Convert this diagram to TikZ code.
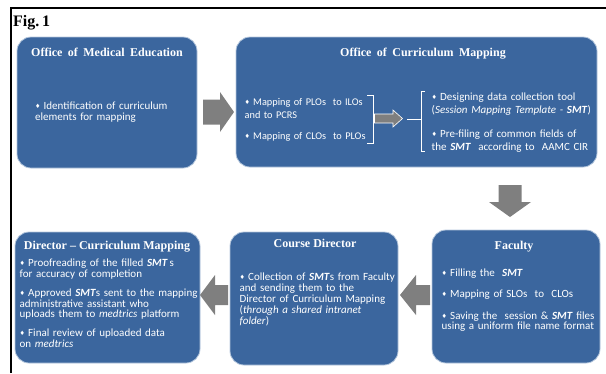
\documentclass[tikz,border=0pt]{standalone}
\usepackage{fontspec}
\setmainfont{Carlito}
\newfontfamily\titlefont[Ligatures=TeX]{Liberation Serif}
\newfontfamily\symfont{DejaVu Sans}
\usetikzlibrary{calc}
\definecolor{boxblue}{HTML}{3B669E}
\definecolor{boxedge}{HTML}{B4C6DC}
\definecolor{arrowgray}{HTML}{7F7F7F}
\newcommand\bul{\makebox[8.5pt][l]{\raisebox{1pt}{\symfont\fontsize{6}{5}\selectfont ♦}}}
\newcommand\bitem[1]{\par\noindent\hangindent=8.5pt\hangafter=1\bul#1\par}
\newcommand\smt{\textbf{\textit{SMT}}}
% block arrow: #1 extra style, #2 rotation, #3 centre, #4 half length, #5 head half width, #6 shaft half width, #7 head length
\newcommand\blockarr[7]{%
  \begin{scope}[shift={#3}, rotate=#2]
    \path[fill=arrowgray, #1] (-#4,-#6) -- ({#4-#7},-#6) -- ({#4-#7},-#5) -- (#4,0)
      -- ({#4-#7},#5) -- ({#4-#7},#6) -- (-#4,#6) -- cycle;
  \end{scope}}
\begin{document}
\begin{tikzpicture}[x=1pt,y=-1pt,
  box/.style={draw=boxedge, line width=0.8pt, fill=boxblue, rounded corners=14pt, inner sep=0pt},
  ttl/.style={text=white, anchor=base, inner sep=0pt, font=\titlefont\bfseries\fontsize{12}{14}\selectfont},
  body/.style={text=white, anchor=north west, inner sep=0pt, align=left, font=\fontsize{11}{12}\selectfont},
  bracket/.style={draw=white, line width=0.8pt}
]
\useasboundingbox (0,0) rectangle (606,373);
% frame
\draw[line width=1.2pt] (11,373) -- (11,8) -- (606,8);
\node[anchor=base west, inner sep=0pt, font=\titlefont\bfseries\fontsize{16}{18}\selectfont] (fig) at (13,26) {Fig.\,1};

% boxes
\node[box, minimum width=180pt, minimum height=131pt] (omed) at (107,102.5) {};
\node[box, minimum width=361pt, minimum height=130pt] (ocm) at (416.5,102) {};
\node[box, minimum width=168pt, minimum height=133pt] (fac) at (516,296.5) {};
\node[box, minimum width=168pt, minimum height=133pt] (cdir) at (314,298.5) {};
\node[box, minimum width=185pt, minimum height=131pt] (dcm) at (107.5,297.5) {};

% titles
\node[ttl] (omedt) at (107,56) {Office\hspace{0.45em}of\hspace{0.45em}Medical\hspace{0.45em}Education};
\node[ttl] (ocmt) at (423,56) {Office\hspace{0.45em}of\hspace{0.45em}Curriculum\hspace{0.45em}Mapping};
\node[ttl] (fact) at (514,249) {Faculty};
\node[ttl] (cdirt) at (315,247) {Course Director};
\node[ttl] (dcmt) at (107,249) {Director – Curriculum Mapping};

% body texts
\node[body, text width=170pt, font=\fontsize{11}{11}\selectfont] (omedb) at (35,98.5)
  {\bitem{Identification of curriculum\\elements for mapping}};
\node[body, text width=130pt, font=\fontsize{10.3}{13}\selectfont] (ocml) at (244.5,92)
  {\bitem{Mapping of PLOs\ \ to ILOs\\and to PCRS}\vspace{8pt}\bitem{Mapping of CLOs\ \ to PLOs}};
\node[body, text width=170pt, font=\fontsize{11}{13}\selectfont] (ocmr) at (431.5,87.5)
  {\bitem{Designing data collection tool\\(\textit{Session Mapping Template -} \smt)}\vspace{10.5pt}\bitem{Pre-filing of common fields of\\the \smt\ \ according to\ \ AAMC CIR}};
\node[body, text width=165pt, font=\fontsize{11}{10.5}\selectfont] (facb) at (441.5,266)
  {\bitem{Filling the\ \ \smt}\vspace{10pt}\bitem{Mapping of SLOs\ \ to\ \ CLOs}\vspace{11.5pt}\bitem{Saving the\ \ session \& \smt\ files\\using a uniform file name format}};
\node[body, text width=165pt, font=\fontsize{11}{11}\selectfont] (cdirb) at (239.5,269.5)
  {\bitem{Collection of \smt s from Faculty\\and sending them to the\\Director of Curriculum Mapping\\(\textit{through a shared intranet}\\\textit{folder})}};
\node[body, text width=182pt, font=\fontsize{11}{10.5}\selectfont] (dcmb) at (19.5,256)
  {\bitem{Proofreading of the filled \smt\,s\\for accuracy of completion}\vspace{9pt}\bitem{Approved \smt s sent to the mapping\\administrative assistant who\\uploads them to \textit{medtrics} platform}\vspace{8.5pt}\bitem{Final review of uploaded data\\on \textit{medtrics}}};

% block arrows between the boxes
\blockarr{}{0}{(218.5,112)}{15.5}{20}{12.5}{14}
\blockarr{}{-90}{(510,201)}{16}{21}{11.5}{15}
\blockarr{}{180}{(415,295)}{15}{20}{10}{16}
\blockarr{}{180}{(214,295)}{14}{20}{10}{15}

% inner arrow and brackets
\blockarr{draw=white, line width=0.6pt}{0}{(388.5,118.5)}{14}{8.5}{4.5}{9.5}
\draw[bracket] (367,95) -- (373,95) -- (373,143) -- (367,143);
\coordinate (ml) at (407,119);
\coordinate (rb) at (421,119);
\draw[bracket] (425,91) -- (421,91) -- (421,151) -- (425,151);
\draw[bracket] (ml) -- (rb);
\end{tikzpicture}
\end{document}
